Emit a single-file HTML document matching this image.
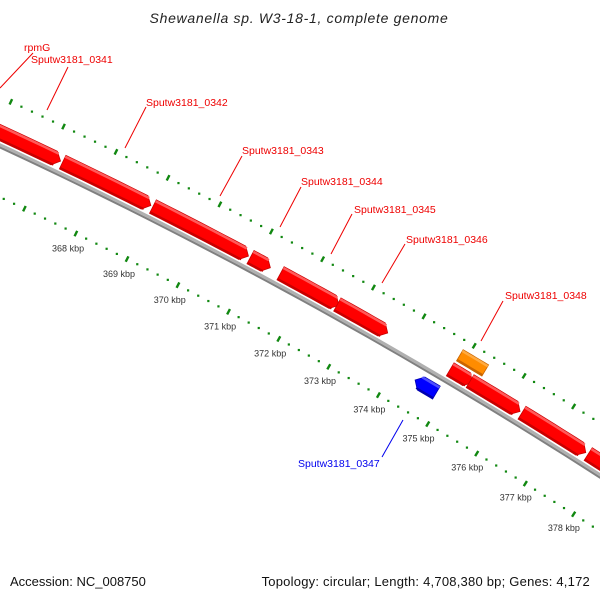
<!DOCTYPE html>
<html><head><meta charset="utf-8"><style>
html,body{margin:0;padding:0;background:#fff}
svg{display:block}
text{font-family:"Liberation Sans",sans-serif}
</style></head><body>
<svg id="map" width="600" height="600" viewBox="0 0 600 600" xmlns="http://www.w3.org/2000/svg">
<rect width="600" height="600" fill="#fff"/>
<g id="layer"></g>
<text x="299" y="23" text-anchor="middle" font-size="14" font-style="italic" letter-spacing="0.7" fill="#222">Shewanella sp. W3-18-1, complete genome</text>
<text x="10" y="586" font-size="13" fill="#111">Accession: NC_008750</text>
<text x="590" y="586" text-anchor="end" font-size="13" letter-spacing="0.22" fill="#111">Topology: circular; Length: 4,708,380 bp; Genes: 4,172</text>
</svg>
<script>
// data
const tickKbp = [366,367,368,369,370,371,372,373,374,375,376,377,378,379];
const labelKbp = [368,369,370,371,372,373,374,375,376,377,378];
const tickLabels = ["368 kbp","369 kbp","370 kbp","371 kbp","372 kbp","373 kbp","374 kbp","375 kbp","376 kbp","377 kbp","378 kbp"];
const geneStart = [364.5,367.25,368.99,370.89,371.48,372.6,374.85,375.25,376.3,377.65];
const geneEnd   = [367.21,368.95,370.85,371.28,372.63,373.6,375.3,376.26,377.6,379.5];
const orangeStart = [374.87];
const orangeEnd = [375.38];
const blueStart = [374.42];
const blueEnd = [374.85];
const labelNames = ["rpmG","Sputw3181_0341","Sputw3181_0342","Sputw3181_0343","Sputw3181_0344","Sputw3181_0345","Sputw3181_0346","Sputw3181_0348","Sputw3181_0347"];

const NS="http://www.w3.org/2000/svg";
const CX=-2120, CY=4710, R=5033;
function ang(k){return (-63.87+(k-368)*0.657)*Math.PI/180;}
function pt(r,k){const a=ang(k);return [CX+r*Math.cos(a),CY+r*Math.sin(a)];}
const layer=document.getElementById('layer');
function mk(tag,attrs){const e=document.createElementNS(NS,tag);for(const k in attrs)e.setAttribute(k,attrs[k]);layer.appendChild(e);return e;}
function arcPts(r,k0,k1,n){const p=[];for(let i=0;i<=n;i++){p.push(pt(r,k0+(k1-k0)*i/n));}return p;}
function ps(p){return p.map(q=>q[0].toFixed(2)+','+q[1].toFixed(2)).join(' ');}

// backbone
let bb=mk('polyline',{points:ps(arcPts(R+0.5,362,382,60)),fill:'none',stroke:'#b0b0b0','stroke-width':3});


let bb2=mk('polyline',{points:ps(arcPts(R-2,362,382,60)),fill:'none',stroke:'#808080','stroke-width':2});



// tick rings
function ring(r,name){
  for(let i=0;i<tickKbp.length-1;i++){
    const k=tickKbp[i];
    const a=pt(r-3,k),b=pt(r+3,k);
    let t=mk('line',{x1:a[0],y1:a[1],x2:b[0],y2:b[1],stroke:'#118811','stroke-width':2.4});
    
    
    for(let j=1;j<5;j++){
      const c=pt(r,k+j*0.2);
      let d=mk('rect',{x:c[0]-1.1,y:c[1]-1.1,width:2.2,height:2.2,fill:'#118811'});
      
      
    }
  }
}
ring(4986,'inner-ring');
ring(5077,'outer-ring');
for(let i=0;i<labelKbp.length;i++){
  const c=pt(4966,labelKbp[i]);
  let t=mk('text',{x:c[0]+1,y:c[1],'text-anchor':'middle','font-size':9,fill:'#333'});
  t.textContent=tickLabels[i];
  
  
}

// genes
function gene(k0,k1,r0,r1,dir,fill,light,dark,name,arrow){
  const head=7/ (R*0.657*Math.PI/180);
  const rm=(r0+r1)/2;
  let poly;
  if(!arrow){poly=arcPts(r1,k0,k1,8).concat(arcPts(r0,k1,k0,8));}
  else if(dir>0){const kb=Math.max(k0,k1-head);poly=arcPts(r1,k0,kb,8).concat([pt(rm,k1)]).concat(arcPts(r0,kb,k0,8));}
  else{const kb=Math.min(k1,k0+head);poly=[pt(rm,k0)].concat(arcPts(r1,kb,k1,8)).concat(arcPts(r0,k1,kb,8));}
  let g=mk('polygon',{points:ps(poly),fill:fill,stroke:dark,'stroke-width':0.8});
  
  
  let ks=dir>0?k0:k0+head*0.7, ke=dir>0?k1-head*0.7:k1;
  if(!arrow){ks=k0;ke=k1;}
  let h=mk('polyline',{points:ps(arcPts(r1-1.5,ks,ke,8)),fill:'none',stroke:light,'stroke-width':2.5});
  
  
  let s=mk('polyline',{points:ps(arcPts(r0+1.2,ks,ke,8)),fill:'none',stroke:dark,'stroke-width':2});
  
  
}
for(let i=0;i<geneStart.length;i++) gene(geneStart[i],geneEnd[i],R+4,R+19,1,'#ff0000','#ff5a5a','#c80000','forward-gene',true);
for(let i=0;i<orangeStart.length;i++) gene(orangeStart[i],orangeEnd[i],R+22,R+35,1,'#ff8c00','#ffaa40','#c86400','orange-gene',false);
for(let i=0;i<blueStart.length;i++) gene(blueStart[i],blueEnd[i],R-23,R-8,-1,'#0000ff','#4d4dff','#0000b0','reverse-gene',true);

// labels
const labels=[
 [24,51,'#e00',[0,88],[33,53]],
 [31,63,'#e00',[47,110],[68,67]],
 [146,106,'#e00',[125,148],[146,107]],
 [242,154,'#e00',[220,196],[242,156]],
 [301,185,'#e00',[280,227],[301,187]],
 [354,213,'#e00',[331,254],[352,214]],
 [406,243,'#e00',[382,283],[405,244]],
 [505,299,'#e00',[481,341],[503,301]],
 [298,467,'#00e',[403,420],[382,457]]
];
labels.forEach((L,i)=>{
  let ln=mk('line',{x1:L[3][0],y1:L[3][1],x2:L[4][0],y2:L[4][1],stroke:L[2],'stroke-width':1});
  
  
  let t=mk('text',{x:L[0],y:L[1],'font-size':10.5,fill:L[2]});
  t.textContent=labelNames[i];
  
  
});
</script>
</body></html>
